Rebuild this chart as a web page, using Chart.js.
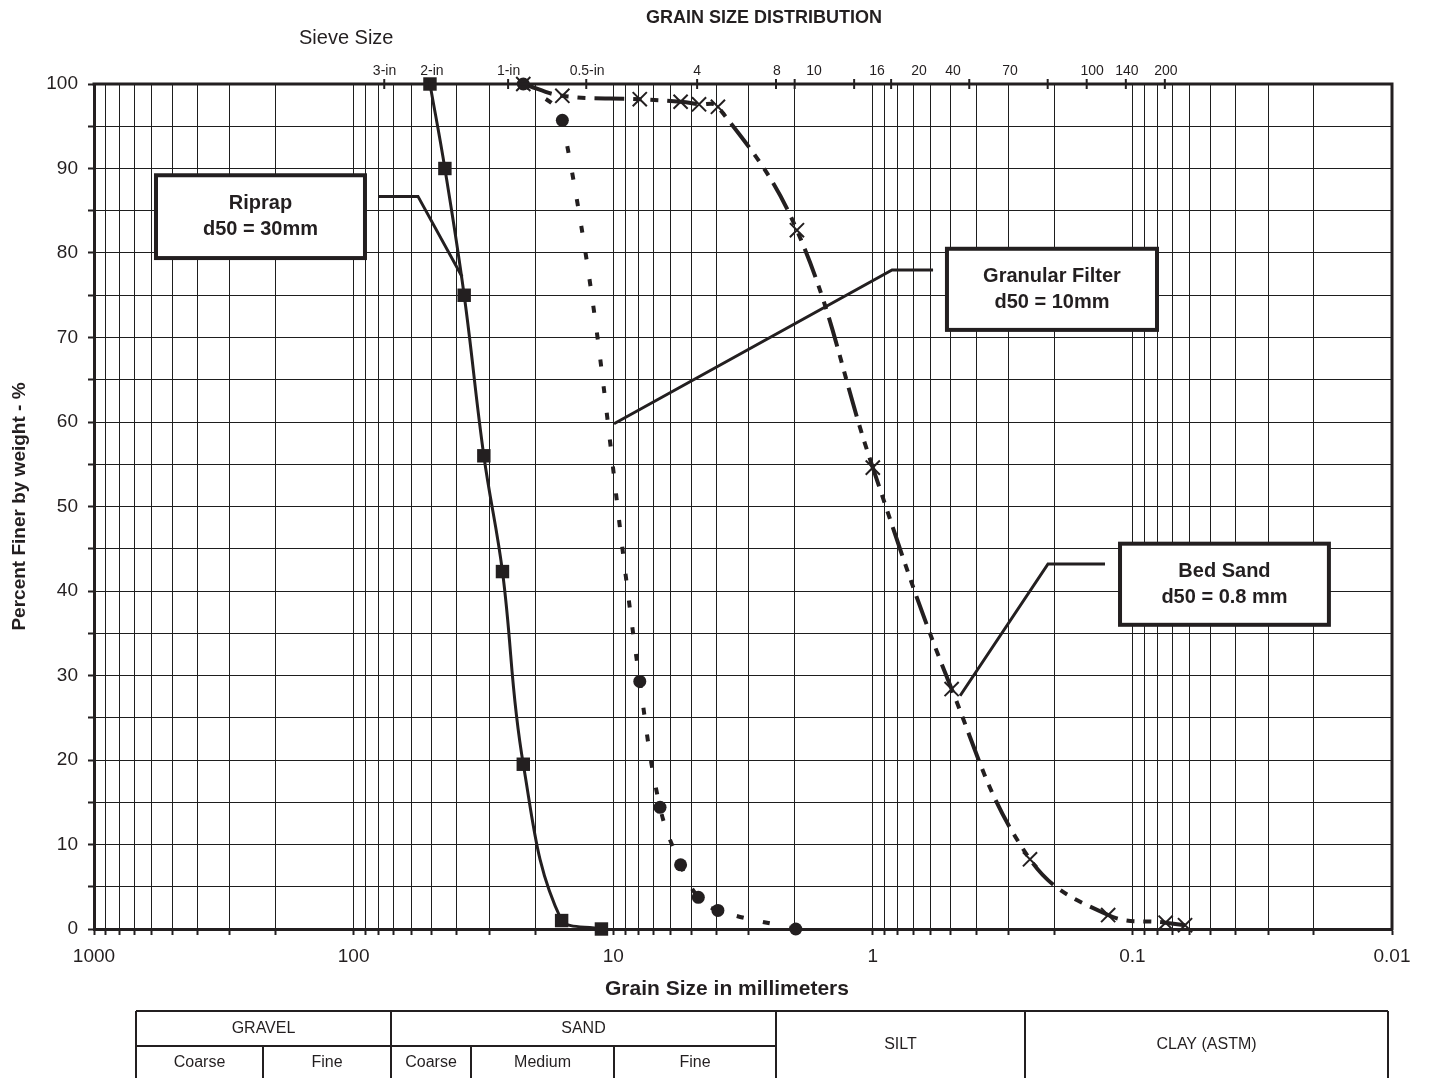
<!DOCTYPE html>
<html>
<head>
<meta charset="utf-8">
<script src="https://cdn.jsdelivr.net/npm/chart.js@4.4.1/dist/chart.umd.min.js"></script>
<style>
html,body{margin:0;padding:0;background:#fff;}
#wrap{width:1430px;height:1078px;position:relative;}
</style>
</head>
<body>
<div id="wrap"><canvas id="c" width="1430" height="1078"></canvas></div>
<script>
// ---------- data ----------
const decadeTicks = [0.01, 0.1, 1, 10, 100, 1000];
const minorSteps = [2, 3, 4, 5, 6, 7, 8, 9];
const percentTicks = [0,5,10,15,20,25,30,35,40,45,50,55,60,65,70,75,80,85,90,95,100];

const sieveLabels = ['3-in','2-in','1-in','0.5-in','4','8','10','16','20','40','70','100','140','200'];
const sieveSizes  = [76.2, 50.8, 25.4, 12.7, 4.75, 2.36, 2.0, 1.18, 0.85, 0.425, 0.212, 0.15, 0.106, 0.075];
const sieveLabelAt = [76.0, 49.9, 25.3, 12.6, 4.75, 2.34, 1.685, 0.964, 0.664, 0.491, 0.296, 0.143, 0.105, 0.0743];

const riprapSize = [50.8, 44.5, 37.5, 31.5, 26.7, 22.2, 15.8, 11.1];
const riprapPct  = [100, 90, 75, 56, 42.3, 19.5, 1, 0];

const filterSize = [22.2, 15.7, 7.9, 6.6, 5.5, 4.7, 3.95, 1.98];
const filterPct  = [100, 95.7, 29.3, 14.4, 7.6, 3.75, 2.2, 0];

const bedSize = [22.2, 15.7, 7.9, 5.5, 4.67, 3.95, 1.96, 1.0, 0.497, 0.248, 0.124, 0.0745, 0.0627];
const bedPct  = [100, 98.6, 98.2, 97.9, 97.6, 97.3, 82.7, 54.6, 28.4, 8.25, 1.65, 0.75, 0.45];

const calloutText = [['Riprap','d50 = 30mm'], ['Granular Filter','d50 = 10mm'], ['Bed Sand','d50 = 0.8 mm']];
// box corners [mmLeft, mmRight, pctTop, pctBottom]; leader points [mm, pct]
const calloutBox = [[577, 90.4, 89.2, 79.4], [0.518, 0.0804, 80.5, 70.9], [0.1116, 0.0175, 45.6, 36.0]];
const calloutLeader = [
  [[80.5, 86.7], [56.5, 86.7], [38.2, 77.2]],
  [[0.586, 78.0], [0.843, 78.0], [9.93, 59.8]],
  [[0.1275, 43.2], [0.2114, 43.2], [0.461, 27.6]]
];

const tableTop = ['GRAVEL', 'SAND', 'SILT', 'CLAY (ASTM)'];
const tableSub = ['Coarse', 'Fine', 'Coarse', 'Medium', 'Fine'];

// ---------- styling ----------
const FONT = '"Liberation Sans", Arial, Helvetica, sans-serif';
const INK = '#231f20';
const GRID = '#1e1e1e';

const gridValues = [];
decadeTicks.forEach(d => {
  gridValues.push(d);
  if (d < 1000) minorSteps.forEach(k => gridValues.push(parseFloat((k * d).toPrecision(6))));
});

const toXY = (xs, ys) => xs.map((v, i) => ({x: v, y: ys[i]}));

const decor = {
  id: 'decor',
  afterDraw(chart) {
    const {ctx, chartArea: a, scales: {x, y}} = chart;
    ctx.save();
    ctx.strokeStyle = INK;
    ctx.fillStyle = INK;
    // top & right frame
    ctx.lineWidth = 3;
    ctx.beginPath();
    ctx.moveTo(a.left - 1.5, a.top);
    ctx.lineTo(a.right, a.top);
    ctx.lineTo(a.right, a.bottom + 1.5);
    ctx.stroke();

    // sieve ticks + labels
    ctx.lineWidth = 2;
    sieveSizes.forEach(s => {
      const px = x.getPixelForValue(s);
      ctx.beginPath(); ctx.moveTo(px, a.top - 5); ctx.lineTo(px, a.top + 5); ctx.stroke();
    });
    ctx.font = '14px ' + FONT;
    ctx.textAlign = 'center'; ctx.textBaseline = 'middle';
    sieveLabels.forEach((t, i) => ctx.fillText(t, x.getPixelForValue(sieveLabelAt[i]), 71));

    // titles
    ctx.font = 'bold 18px ' + FONT;
    ctx.fillText('GRAIN SIZE DISTRIBUTION', 764, 18);
    ctx.font = '20px ' + FONT;
    ctx.textAlign = 'left';
    ctx.fillText('Sieve Size', 299, 38);
    ctx.textAlign = 'center';
    ctx.font = 'bold 21px ' + FONT;
    ctx.fillText('Grain Size in millimeters', 727, 989);

    // callouts
    calloutText.forEach((lines, i) => {
      const b = calloutBox[i];
      const x1 = x.getPixelForValue(b[0]), x2 = x.getPixelForValue(b[1]);
      const y1 = y.getPixelForValue(b[2]), y2 = y.getPixelForValue(b[3]);
      ctx.fillStyle = '#fff';
      ctx.fillRect(x1, y1, x2 - x1, y2 - y1);
      ctx.lineWidth = 4; ctx.strokeStyle = INK;
      ctx.strokeRect(x1, y1, x2 - x1, y2 - y1);
      ctx.fillStyle = INK;
      ctx.font = 'bold 20px ' + FONT;
      const cx = (x1 + x2) / 2, cy = (y1 + y2) / 2;
      ctx.fillText(lines[0], cx, cy - 13);
      ctx.fillText(lines[1], cx, cy + 13);
      const L = calloutLeader[i];
      ctx.lineWidth = 3; ctx.lineJoin = 'miter';
      ctx.beginPath();
      L.forEach((p, j) => {
        const px = x.getPixelForValue(p[0]), py = y.getPixelForValue(p[1]);
        if (j === 0) ctx.moveTo(px, py); else ctx.lineTo(px, py);
      });
      ctx.stroke();
    });

    // classification table
    const T = {l: 136, r: 1388, top: 1011, mid: 1046, bot: 1080};
    const cols = {gs: 391, ss: 776, sc: 1025, g1: 263, s1: 471, s2: 614};
    ctx.lineWidth = 2; ctx.strokeStyle = INK;
    ctx.beginPath();
    ctx.moveTo(T.l, T.top); ctx.lineTo(T.r, T.top);
    ctx.moveTo(T.l, T.mid); ctx.lineTo(cols.ss, T.mid);
    [T.l, cols.gs, cols.ss, cols.sc, T.r].forEach(cx => { ctx.moveTo(cx, T.top); ctx.lineTo(cx, T.bot); });
    [cols.g1, cols.s1, cols.s2].forEach(cx => { ctx.moveTo(cx, T.mid); ctx.lineTo(cx, T.bot); });
    ctx.stroke();
    ctx.font = '16px ' + FONT;
    ctx.fillStyle = INK;
    ctx.fillText(tableTop[0], (T.l + cols.gs) / 2, 1029);
    ctx.fillText(tableTop[1], (cols.gs + cols.ss) / 2, 1029);
    ctx.fillText(tableTop[2], (cols.ss + cols.sc) / 2, 1045);
    ctx.fillText(tableTop[3], (cols.sc + T.r) / 2, 1045);
    const subEdges = [T.l, cols.g1, cols.gs, cols.s1, cols.s2, cols.ss];
    tableSub.forEach((t, i) => ctx.fillText(t, (subEdges[i] + subEdges[i + 1]) / 2, 1063));
    ctx.restore();
  }
};

const lineBase = {
  showLine: true,
  tension: 0.4,
  clip: false,
  borderColor: INK,
  pointBorderColor: INK,
  pointBackgroundColor: INK,
  pointHoverRadius: 0,
};

new Chart(document.getElementById('c'), {
  type: 'scatter',
  data: {
    datasets: [
      Object.assign({}, lineBase, {
        label: 'Riprap', data: toXY(riprapSize, riprapPct),
        borderWidth: 3, pointStyle: 'rect', pointRadius: 9.5, pointBorderWidth: 0
      }),
      Object.assign({}, lineBase, {
        label: 'Granular Filter', data: toXY(filterSize, filterPct),
        borderWidth: 4, borderDash: [7, 20], pointStyle: 'circle', pointRadius: 6.5, pointBorderWidth: 0
      }),
      Object.assign({}, lineBase, {
        label: 'Bed Sand', data: toXY(bedSize, bedPct),
        borderWidth: 4, borderDash: [30, 9, 8, 9, 8, 9], pointStyle: 'crossRot', pointRadius: 10, pointBorderWidth: 2
      })
    ]
  },
  options: {
    responsive: false,
    animation: false,
    devicePixelRatio: 1,
    layout: {padding: {top: 84, right: 38, left: 0, bottom: 0}},
    plugins: {legend: {display: false}, tooltip: {enabled: false}, title: {display: false}},
    scales: {
      x: {
        type: 'logarithmic',
        position: 'bottom',
        reverse: true,
        min: 0.01, max: 1000,
        afterBuildTicks: s => { s.ticks = gridValues.map(v => ({value: v})); },
        afterFit: s => { s.height = 149; },
        ticks: {
          autoSkip: false, maxRotation: 0, minRotation: 0, padding: 10,
          color: INK, font: {family: FONT, size: 19},
          callback: v => decadeTicks.includes(v) ? String(v) : ''
        },
        grid: {color: GRID, lineWidth: 1, tickLength: 6, tickWidth: 2, tickColor: INK},
        border: {display: true, color: INK, width: 3}
      },
      y: {
        type: 'linear',
        min: 0, max: 100,
        afterBuildTicks: s => { s.ticks = percentTicks.map(v => ({value: v})); },
        afterFit: s => { s.width = 94; },
        ticks: {
          padding: 10, color: INK, font: {family: FONT, size: 19},
          callback: v => (v % 10 === 0 ? String(v) : '')
        },
        grid: {color: GRID, lineWidth: 1, tickLength: 6, tickWidth: 2, tickColor: INK},
        border: {display: true, color: INK, width: 3},
        title: {
          display: true, text: 'Percent Finer by weight - %', color: INK,
          font: {family: FONT, size: 19, weight: 'bold'}, padding: {top: 8, bottom: 0}
        }
      }
    }
  },
  plugins: [decor]
});
</script>
</body>
</html>
